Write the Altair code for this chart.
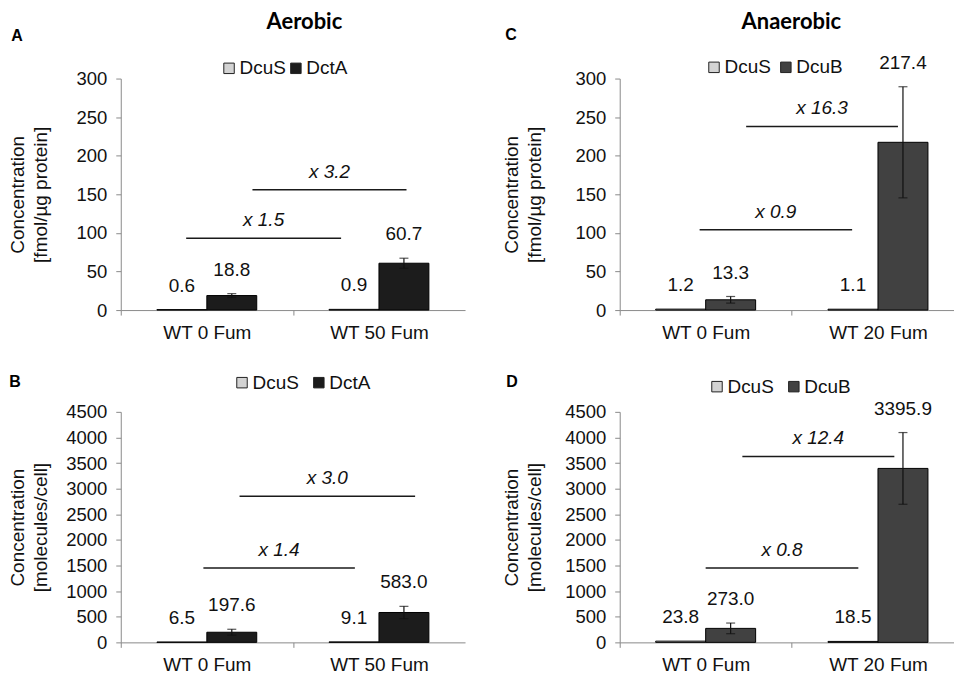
import altair as alt
import pandas as pd

# ---------------- data ----------------
categories_aer = ["WT 0 Fum", "WT 50 Fum"]
categories_ana = ["WT 0 Fum", "WT 20 Fum"]

# Panel A (aerobic, fmol/ug protein)
A_DcuS = [0.6, 0.9]
A_DctA = [18.8, 60.7]
A_DctA_err = [2.5, 6.5]
A_fold_labels = ["x 1.5", "x 3.2"]
A_fold_level = [93, 156]
A_fold_start = [-0.12, 0.265]
A_fold_end = [0.78, 1.16]

# Panel B (aerobic, molecules/cell)
B_DcuS = [6.5, 9.1]
B_DctA = [197.6, 583.0]
B_DctA_err = [58, 120]
B_fold_labels = ["x 1.4", "x 3.0"]
B_fold_level = [1450, 2850]
B_fold_start = [-0.02, 0.19]
B_fold_end = [0.86, 1.21]

# Panel C (anaerobic, fmol/ug protein)
C_DcuS = [1.2, 1.1]
C_DcuB = [13.3, 217.4]
C_DcuB_err = [4.3, 72]
C_fold_labels = ["x 0.9", "x 16.3"]
C_fold_level = [104, 238]
C_fold_start = [-0.035, 0.235]
C_fold_end = [0.85, 1.116]

# Panel D (anaerobic, molecules/cell)
D_DcuS = [23.8, 18.5]
D_DcuB = [273.0, 3395.9]
D_DcuB_err = [104, 700]
D_fold_labels = ["x 0.8", "x 12.4"]
D_fold_level = [1450, 3630]
D_fold_start = [0.0, 0.213]
D_fold_end = [0.886, 1.095]

yticks_fmol = [0, 50, 100, 150, 200, 250, 300]
yticks_cell = [0, 500, 1000, 1500, 2000, 2500, 3000, 3500, 4000, 4500]
ytitle_fmol = ["Concentration", "[fmol/µg protein]"]
ytitle_cell = ["Concentration", "[molecules/cell]"]

FONT = "Liberation Sans"
TXT = "#111111"
AXC = "#8a8a8a"


def panel(letter, head, cats, names, colors, s_vals, t_vals, t_err, yticks, ytitle,
          f_labels, f_level, f_start, f_end,
          W, H, po, align, title_x, legend_x, legend_y, legend_gap, letter_xy, head_xy):
    pi = 0.42
    step = W / (2 - pi + 2 * po)
    start = align * (W - step * (2 - pi))
    c0 = start + step * (1 - pi) / 2
    qdomain = [-c0 / step, (W - c0) / step]

    rows = []
    for i, c in enumerate(cats):
        rows.append(dict(cat=c, series=names[0], value=s_vals[i], err=0.0))
        rows.append(dict(cat=c, series=names[1], value=t_vals[i], err=t_err[i]))
    df = pd.DataFrame(rows)
    df["lo"] = df["value"] - df["err"]
    df["hi"] = df["value"] + df["err"]

    yscale = alt.Scale(domain=[0, yticks[-1]], nice=False, zero=True)
    yaxis = alt.Axis(
        values=yticks, format="d", title=ytitle, titleX=title_x,
        titleFont=FONT, titleFontSize=19, titleFontWeight="normal", titleColor=TXT,
        titleLineHeight=23, labelFont=FONT, labelFontSize=18.5, labelColor=TXT,
        labelPadding=9, tickSize=5, grid=False, domainColor=AXC, tickColor=AXC,
    )

    def Y(field):
        return alt.Y(field, scale=yscale, axis=yaxis)

    x = alt.X("cat:N", sort=cats,
              scale=alt.Scale(paddingInner=pi, paddingOuter=po, align=align),
              axis=alt.Axis(title=None, labelAngle=0, labelFont=FONT, labelFontSize=19,
                            labelColor=TXT, labelPadding=8, tickSize=5,
                            tickOffset=-step / 2, labelOffset=step / 2,
                            domainColor=AXC, tickColor=AXC, grid=False))
    xo = alt.XOffset("series:N", sort=names,
                     scale=alt.Scale(paddingInner=0, paddingOuter=0))
    color = alt.Color(
        "series:N", sort=names, scale=alt.Scale(domain=names, range=colors),
        legend=alt.Legend(title=None, orient="none", legendX=legend_x, legendY=legend_y,
                          direction="horizontal", symbolType="square", symbolSize=110,
                          symbolStrokeColor="#222222", symbolStrokeWidth=1,
                          labelFont=FONT, labelFontSize=19, labelColor=TXT,
                          labelOffset=1, columnPadding=legend_gap, padding=0),
    )

    base = alt.Chart(df).encode(x=x, xOffset=xo)
    bars = base.mark_bar(stroke="#000000", strokeWidth=1).encode(
        y=Y("value:Q"), color=color)
    errs = base.transform_filter("datum.err > 0")
    rule = errs.mark_rule(color=TXT, strokeWidth=1.2).encode(y=Y("lo:Q"), y2="hi:Q")
    cap_lo = errs.mark_tick(color=TXT, thickness=1.2, size=9).encode(y=Y("lo:Q"))
    cap_hi = errs.mark_tick(color=TXT, thickness=1.2, size=9).encode(y=Y("hi:Q"))
    labels = base.mark_text(baseline="bottom", dy=-14, font=FONT, fontSize=19,
                            color=TXT).encode(
        y=Y("hi:Q"), text=alt.Text("value:Q", format=".1f"))
    inner = alt.layer(bars, rule, cap_lo, cap_hi, labels)

    adf = pd.DataFrame(dict(label=f_labels, level=f_level, start=f_start, end=f_end))
    adf["mid"] = (adf["start"] + adf["end"]) / 2
    qx = alt.Scale(domain=qdomain, nice=False, zero=False)
    arule = alt.Chart(adf).mark_rule(color="#1a1a1a", strokeWidth=1.5).encode(
        x=alt.X("start:Q", scale=qx, axis=None), x2="end:Q", y=Y("level:Q"))
    atext = alt.Chart(adf).mark_text(baseline="bottom", dy=-8, font=FONT, fontSize=19,
                                     fontStyle="italic", color=TXT).encode(
        x=alt.X("mid:Q", scale=qx, axis=None), y=Y("level:Q"), text="label:N")

    layers = [inner, arule, atext]
    ldf = pd.DataFrame(dict(t=[letter]))
    layers.append(alt.Chart(ldf).mark_text(font=FONT, fontSize=16, fontWeight="bold",
                                           color="#000000", align="center",
                                           baseline="middle").encode(
        x=alt.value(letter_xy[0]), y=alt.value(letter_xy[1]), text="t:N"))
    if head:
        hdf = pd.DataFrame(dict(t=[head]))
        layers.append(alt.Chart(hdf).mark_text(font="Lato", fontSize=22, fontWeight="bold",
                                               color="#000000", align="center",
                                               baseline="middle").encode(
            x=alt.value(head_xy[0]), y=alt.value(head_xy[1]), text="t:N"))
    return alt.layer(*layers).resolve_scale(x="independent").properties(width=W, height=H)


pA = panel("A", "Aerobic", categories_aer, ["DcuS", "DctA"], ["#d3d3d3", "#1c1c1c"],
           A_DcuS, A_DctA, A_DctA_err, yticks_fmol, ytitle_fmol,
           A_fold_labels, A_fold_level, A_fold_start, A_fold_end,
           345, 232, 0.21, 0.5, -93, 99, -20, 0, (-104, -43), (184, -57))
pC = panel("C", "Anaerobic", categories_ana, ["DcuS", "DcuB"], ["#d3d3d3", "#414141"],
           C_DcuS, C_DcuB, C_DcuB_err, yticks_fmol, ytitle_fmol,
           C_fold_labels, C_fold_level, C_fold_start, C_fold_end,
           335, 232, 0.18, 0.58, -98, 85, -21, 5, (-109, -44), (172, -57))
pB = panel("B", None, categories_aer, ["DcuS", "DctA"], ["#d3d3d3", "#1c1c1c"],
           B_DcuS, B_DctA, B_DctA_err, yticks_cell, ytitle_cell,
           B_fold_labels, B_fold_level, B_fold_start, B_fold_end,
           345, 231, 0.21, 0.5, -93, 112, -39, 10, (-106, -30), None)
pD = panel("D", None, categories_ana, ["DcuS", "DcuB"], ["#d3d3d3", "#414141"],
           D_DcuS, D_DcuB, D_DcuB_err, yticks_cell, ytitle_cell,
           D_fold_labels, D_fold_level, D_fold_start, D_fold_end,
           335, 231, 0.18, 0.58, -98, 88, -35, 10, (-108, -30), None)

top = alt.hconcat(pA, pC, spacing=37).resolve_scale(color="independent", xOffset="independent")
bottom = alt.hconcat(pB, pD, spacing=37).resolve_scale(color="independent", xOffset="independent")
chart = alt.vconcat(top, bottom, spacing=31).resolve_scale(
    color="independent", xOffset="independent"
).properties(padding={"left": 0, "top": 2, "right": 0, "bottom": 0}).configure_view(
    strokeWidth=0
)

chart.save("out.html", embed_options={"renderer": "svg", "actions": False})
